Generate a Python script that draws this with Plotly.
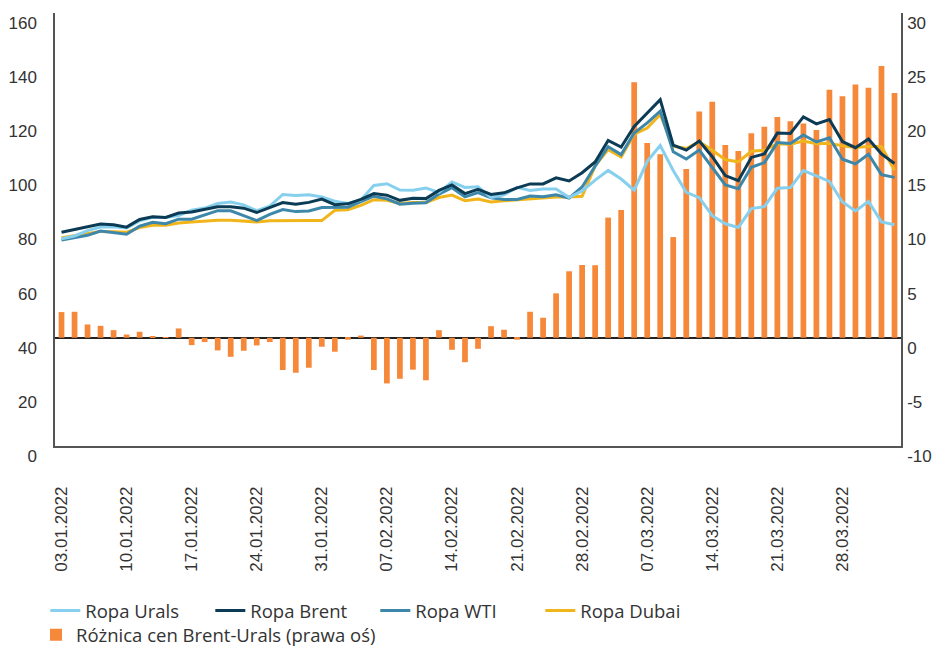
import plotly.graph_objects as go

dates = [
    "03.01.2022", "04.01.2022", "05.01.2022", "06.01.2022", "07.01.2022",
    "10.01.2022", "11.01.2022", "12.01.2022", "13.01.2022", "14.01.2022",
    "17.01.2022", "18.01.2022", "19.01.2022", "20.01.2022", "21.01.2022",
    "24.01.2022", "25.01.2022", "26.01.2022", "27.01.2022", "28.01.2022",
    "31.01.2022", "01.02.2022", "02.02.2022", "03.02.2022", "04.02.2022",
    "07.02.2022", "08.02.2022", "09.02.2022", "10.02.2022", "11.02.2022",
    "14.02.2022", "15.02.2022", "16.02.2022", "17.02.2022", "18.02.2022",
    "21.02.2022", "22.02.2022", "23.02.2022", "24.02.2022", "25.02.2022",
    "28.02.2022", "01.03.2022", "02.03.2022", "03.03.2022", "04.03.2022",
    "07.03.2022", "08.03.2022", "09.03.2022", "10.03.2022", "11.03.2022",
    "14.03.2022", "15.03.2022", "16.03.2022", "17.03.2022", "18.03.2022",
    "21.03.2022", "22.03.2022", "23.03.2022", "24.03.2022", "25.03.2022",
    "28.03.2022", "29.03.2022", "30.03.2022", "31.03.2022", "01.04.2022",
]

tick_labels = ["03.01.2022", "10.01.2022", "17.01.2022", "24.01.2022", "31.01.2022",
               "07.02.2022", "14.02.2022", "21.02.2022", "28.02.2022", "07.03.2022",
               "14.03.2022", "21.03.2022", "28.03.2022"]

left_ticks = [0, 20, 40, 60, 80, 100, 120, 140, 160]
right_ticks = [-10, -5, 0, 5, 10, 15, 20, 25, 30]
right_tick_text = ["-10", "-5", "0", "5", "10", "15", "20", "25", "30"]

urals = [76.61, 77.60, 79.57, 80.89, 81.05, 80.57, 83.17, 84.55, 84.42, 85.20,
         87.16, 87.91, 89.61, 90.14, 89.09, 86.98, 88.60, 92.94, 92.57, 92.80,
         92.04, 90.45, 89.65, 90.91, 96.25, 96.91, 94.57, 94.50, 95.34, 93.74,
         97.59, 95.54, 95.83, 91.90, 92.80, 95.57, 94.44, 94.99, 94.98, 91.79,
         94.27, 98.27, 101.83, 98.66, 94.51, 105.21, 111.03, 101.84, 93.73, 91.77,
         85.10, 82.11, 80.77, 87.74, 88.43, 95.22, 95.48, 101.80, 99.83, 97.75,
         90.18, 86.83, 90.35, 82.81, 81.79]

brent = [78.98, 80.00, 80.80, 81.99, 81.75, 80.87, 83.72, 84.67, 84.47, 86.06,
         86.48, 87.51, 88.44, 88.38, 87.89, 86.27, 88.20, 89.96, 89.34, 90.03,
         91.21, 89.16, 89.47, 91.11, 93.27, 92.69, 90.78, 91.55, 91.41, 94.44,
         96.48, 93.28, 94.81, 92.97, 93.54, 95.39, 96.84, 96.84, 99.08, 97.93,
         100.99, 104.97, 112.93, 110.46, 118.11, 123.21, 127.98, 111.14, 109.33, 112.67,
         106.90, 99.91, 98.02, 106.64, 107.93, 115.62, 115.48, 121.60, 119.03, 120.65,
         112.48, 110.23, 113.45, 107.91, 104.39]

wti = [76.08, 76.99, 77.85, 79.46, 78.90, 78.23, 81.22, 82.64, 82.12, 83.82,
       83.82, 85.43, 86.96, 86.90, 85.14, 83.31, 85.60, 87.35, 86.61, 86.82,
       88.15, 88.20, 88.26, 90.27, 92.31, 91.32, 89.36, 89.66, 89.88, 93.10,
       95.46, 92.07, 93.66, 91.76, 91.07, 91.07, 92.35, 92.10, 92.81, 91.59,
       95.72, 103.41, 110.60, 107.67, 115.68, 119.40, 123.70, 108.70, 106.02, 109.33,
       103.01, 96.44, 95.04, 102.98, 104.70, 112.12, 111.76, 114.93, 112.34, 113.90,
       105.96, 104.24, 107.82, 100.28, 99.27]

dubai = [77.0, 77.8, 78.5, 79.3, 79.2, 79.0, 80.7, 81.6, 81.6, 82.4,
         82.8, 83.2, 83.4, 83.4, 83.2, 82.8, 83.2, 83.3, 83.3, 83.3,
         83.3, 87.1, 87.3, 88.9, 91.0, 90.8, 89.6, 90.0, 90.0, 91.8,
         92.7, 90.6, 91.3, 90.2, 90.6, 91.0, 91.4, 91.6, 92.0, 92.0,
         92.3, 103.5, 109.5, 106.8, 115.2, 117.5, 122.5, 110.8, 109.9, 112.4,
         109.3, 105.8, 105.0, 108.9, 109.3, 111.7, 111.5, 112.7, 111.7, 111.9,
         110.9, 110.3, 110.7, 110.7, 101.9]

spread = [2.37, 2.40, 1.23, 1.10, 0.70, 0.30, 0.55, 0.12, 0.05, 0.86,
          -0.68, -0.40, -1.17, -1.76, -1.20, -0.71, -0.40, -2.98, -3.23, -2.77,
          -0.83, -1.29, -0.18, 0.20, -2.98, -4.22, -3.79, -2.95, -3.93, 0.70,
          -1.11, -2.26, -1.02, 1.07, 0.74, -0.18, 2.40, 1.85, 4.10, 6.14,
          6.72, 6.70, 11.10, 11.80, 23.60, 18.00, 16.95, 9.30, 15.60, 20.90,
          21.80, 17.80, 17.25, 18.90, 19.50, 20.40, 20.00, 19.80, 19.20, 22.90,
          22.30, 23.40, 23.10, 25.10, 22.60]

C_URALS = "#86D0EE"
C_BRENT = "#0C3B55"
C_WTI = "#3D88AA"
C_DUBAI = "#F1B51C"
C_BAR = "#F6883A"

TICK_FONT = dict(family="Liberation Sans, Arial, sans-serif", size=17, color="#333333")
LEG_FONT = dict(family="Open Sans, sans-serif", size=18.5, color="#333333")

fig = go.Figure()

fig.add_trace(go.Bar(
    x=dates, y=spread, name="Różnica cen Brent-Urals (prawa oś)",
    marker=dict(color=C_BAR, line=dict(width=0)),
    yaxis="y", legend="legend2",
))

line_specs = [("Ropa Dubai", dubai, C_DUBAI, 4),
              ("Ropa WTI", wti, C_WTI, 3),
              ("Ropa Urals", urals, C_URALS, 1),
              ("Ropa Brent", brent, C_BRENT, 2)]
for name, vals, col, rk in line_specs:
    fig.add_trace(go.Scatter(
        x=dates, y=vals, name=name, mode="lines",
        line=dict(color=col, width=3),
        yaxis="y2", legend="legend", legendrank=rk,
    ))

# page body has an 8px margin, so the figure is sized to fill the remaining window
fig.update_layout(
    width=933, height=638,
    margin=dict(l=47, r=40, t=5, b=200, autoexpand=False),
    paper_bgcolor="white", plot_bgcolor="white",
    bargap=0.56,
    showlegend=True,
    xaxis=dict(
        type="category", range=[-0.5, 64.5],
        tickmode="array", tickvals=tick_labels, ticktext=tick_labels,
        tickangle=-90, tickfont=TICK_FONT,
        showgrid=False, showline=True, linecolor="#555555", linewidth=1.5,
        ticks="", ticklabelstandoff=32, anchor="y", automargin=False,
    ),
    yaxis=dict(
        side="right", range=[-10, 30],
        tickmode="array", tickvals=right_ticks, ticktext=right_tick_text,
        tickfont=TICK_FONT, showgrid=False,
        showline=True, linecolor="#555555", linewidth=1.5,
        zeroline=True, zerolinecolor="#222222", zerolinewidth=1.5,
        ticks="", ticklabelstandoff=1, ticklabelshift=10, automargin=False,
    ),
    yaxis2=dict(
        side="left", overlaying="y", range=[0, 160],
        tickmode="array", tickvals=left_ticks,
        tickfont=TICK_FONT, showgrid=False, zeroline=False,
        showline=True, linecolor="#555555", linewidth=1.5,
        ticks="", ticklabelstandoff=13, ticklabelshift=10, automargin=False,
    ),
    legend=dict(
        orientation="h", xref="container", x=0.040, xanchor="left",
        yref="container", y=0.055, yanchor="middle",
        font=LEG_FONT, entrywidth=120, entrywidthmode="pixels",
        bgcolor="rgba(0,0,0,0)", traceorder="normal",
    ),
    legend2=dict(
        orientation="h", xref="container", x=0.030, xanchor="left",
        yref="container", y=0.017, yanchor="middle",
        font=LEG_FONT, bgcolor="rgba(0,0,0,0)",
    ),
)

fig.write_html("out.html")
